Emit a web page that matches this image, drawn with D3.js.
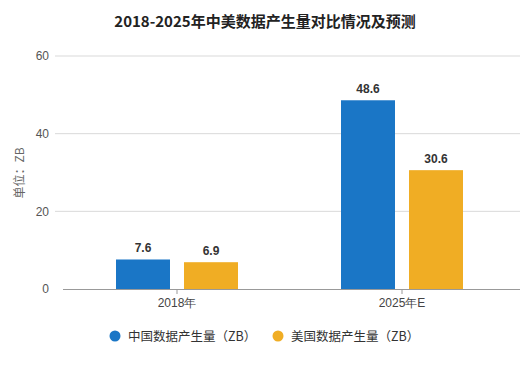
<!DOCTYPE html>
<html><head><meta charset="utf-8">
<script src="https://cdn.jsdelivr.net/npm/d3@7"></script>
<style>body{margin:0;background:#fff;}svg{display:block;font-family:"Microsoft YaHei","Noto Sans CJK SC",sans-serif;}</style>
</head><body>
<svg id="c" width="529" height="390"></svg>
<script>
const categories = ["2018年", "2025年E"];
const seriesNames = ["中国数据产生量（ZB）", "美国数据产生量（ZB）"];
const chinaValues = [7.6, 48.6];
const usValues = [6.9, 30.6];
const yTicks = [0, 20, 40, 60];
const colors = ["#1a76c6", "#f0ad24"];

const svg = d3.select("#c");
const x0 = d3.scaleBand().domain(categories).range([64.5, 514.5]);
const x1 = d3.scaleBand().domain([0, 1]).range([0, 122]).paddingInner(14/68);
const y = d3.scaleLinear().domain([0, 60]).range([289, 56]);

svg.append("text").attr("x", 265).attr("y", 27).attr("text-anchor", "middle")
  .attr("font-size", 15).attr("font-weight", "bold").attr("fill", "#222")
  .text("2018-2025年中美数据产生量对比情况及预测");

// gridlines
svg.append("g").selectAll("line").data(yTicks.filter(d => d > 0)).join("line")
  .attr("x1", 55).attr("x2", 520).attr("y1", d => y(d)).attr("y2", d => y(d))
  .attr("stroke", "#d9d9d9").attr("stroke-width", 1);

// y axis labels
const yAxis = d3.axisLeft(y).tickValues(yTicks).tickSize(0).tickPadding(0);
const ga = svg.append("g").attr("transform", "translate(49,0)").call(yAxis);
ga.select(".domain").remove();
ga.selectAll("text").attr("font-size", 12).attr("fill", "#555").attr("font-family", "Arial, 'Liberation Sans', sans-serif");

svg.append("text").attr("transform", "translate(24,173) rotate(-90)").attr("text-anchor", "middle")
  .attr("font-size", 12).attr("fill", "#666").text("单位：ZB");

// bars
const data = categories.map((c, i) => ({c, vals: [chinaValues[i], usValues[i]]}));
const groups = svg.append("g").selectAll("g").data(data).join("g")
  .attr("transform", d => `translate(${x0(d.c) + x0.bandwidth()/2 - 61},0)`);
groups.selectAll("rect").data(d => d.vals).join("rect")
  .attr("x", (d, i) => x1(i)).attr("width", x1.bandwidth())
  .attr("y", d => y(d)).attr("height", d => y(0) - y(d))
  .attr("fill", (d, i) => colors[i]);
groups.selectAll("text").data(d => d.vals).join("text")
  .attr("x", (d, i) => x1(i) + x1.bandwidth()/2).attr("y", d => y(d) - 7)
  .attr("text-anchor", "middle").attr("font-size", 12).attr("font-weight", "bold")
  .attr("fill", "#333").attr("font-family", "Arial, 'Liberation Sans', sans-serif")
  .text(d => d.toFixed(1));

// x axis
const xAxis = d3.axisBottom(x0).tickSize(5).tickPadding(4);
const gx = svg.append("g").attr("transform", "translate(0,289)").call(xAxis);
gx.select(".domain").attr("d", "M63,0.5H520").attr("stroke", "#999");
gx.selectAll(".tick line").attr("stroke", "#999");
gx.selectAll("text").attr("font-size", 12).attr("fill", "#444");

// legend
const lx = [115, 278];
const lg = svg.append("g").selectAll("g").data(seriesNames).join("g")
  .attr("transform", (d, i) => `translate(${lx[i]},336)`);
lg.append("circle").attr("r", 5.5).attr("fill", (d, i) => colors[i]);
lg.append("text").attr("x", 13).attr("y", 4.5).attr("font-size", 12.5).attr("fill", "#333").text(d => d);
</script>
</body></html>
